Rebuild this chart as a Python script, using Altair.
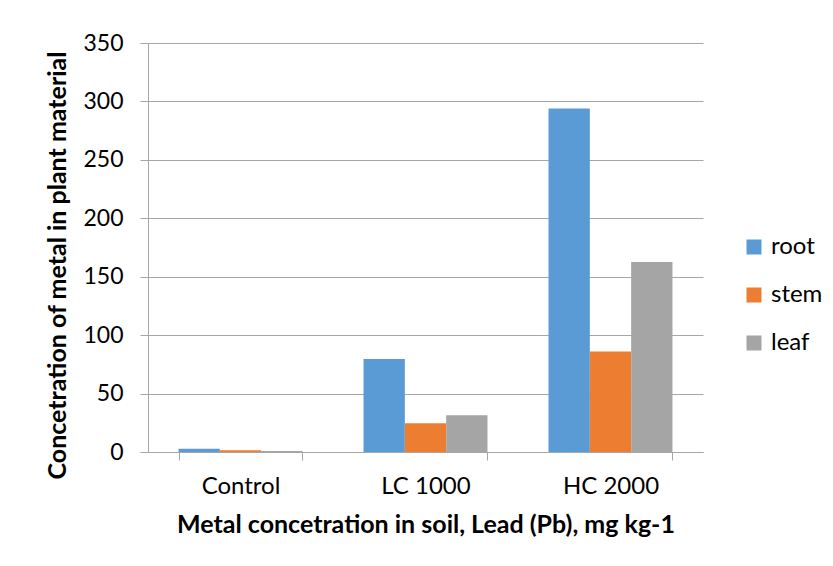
import altair as alt
import pandas as pd

categories = ["Control", "LC 1000", "HC 2000"]
parts = ["root", "stem", "leaf"]
root = [2.8, 79.5, 294.0]
stem = [1.6, 24.5, 86.0]
leaf = [0.8, 31.5, 162.5]
colors = ["#5b9bd5", "#ed7d31", "#a5a5a5"]

rows = []
for i, c in enumerate(categories):
    for p, vals in zip(parts, [root, stem, leaf]):
        rows.append({"category": c, "part": p, "value": vals[i]})
df = pd.DataFrame(rows)

FONT = "Lato"
GRID = "#a6a6a6"

chart = alt.Chart(df).mark_bar().encode(
    x=alt.X("category:N", sort=categories,
            scale=alt.Scale(paddingInner=0.33, paddingOuter=0.165),
            axis=alt.Axis(title="Metal concetration in soil, Lead (Pb), mg kg-1",
                          labelAngle=0, tickBand="extent", domainColor=GRID,
                          tickColor=GRID, tickSize=8, labelPadding=14,
                          labelFontSize=24, labelColor="#000000",
                          titleFontSize=25, titleFontWeight="bold",
                          titleColor="#000000", titlePadding=14,
                          labelFont=FONT, titleFont=FONT)),
    xOffset=alt.XOffset("part:N", sort=parts, scale=alt.Scale(paddingInner=0, paddingOuter=0)),
    y=alt.Y("value:Q", scale=alt.Scale(domain=[0, 350], nice=False),
            axis=alt.Axis(title="Concetration of metal in plant material",
                          values=[0, 50, 100, 150, 200, 250, 300, 350],
                          grid=True, gridColor=GRID, domainColor=GRID,
                          tickColor=GRID, tickSize=8, labelPadding=17,
                          labelFontSize=23, labelColor="#000000",
                          titleFontSize=25, titleFontWeight="bold",
                          titleColor="#000000", titleX=-78, titleY=222,
                          labelFont=FONT, titleFont=FONT)),
    color=alt.Color("part:N", sort=parts,
                    scale=alt.Scale(domain=parts, range=colors),
                    legend=alt.Legend(title=None, orient="none", legendX=594, legendY=192,
                                      symbolType="square", symbolSize=225,
                                      symbolStrokeWidth=0, labelFontSize=24,
                                      labelFont=FONT, labelColor="#000000",
                                      rowPadding=24, labelOffset=5)),
).properties(
    width=555, height=409,
    autosize=alt.AutoSizeParams(type="none"),
    padding={"left": 140, "top": 35, "right": 122, "bottom": 100},
).configure_view(stroke=None)

chart.save("out.html", embed_options={"renderer": "svg", "actions": False})
